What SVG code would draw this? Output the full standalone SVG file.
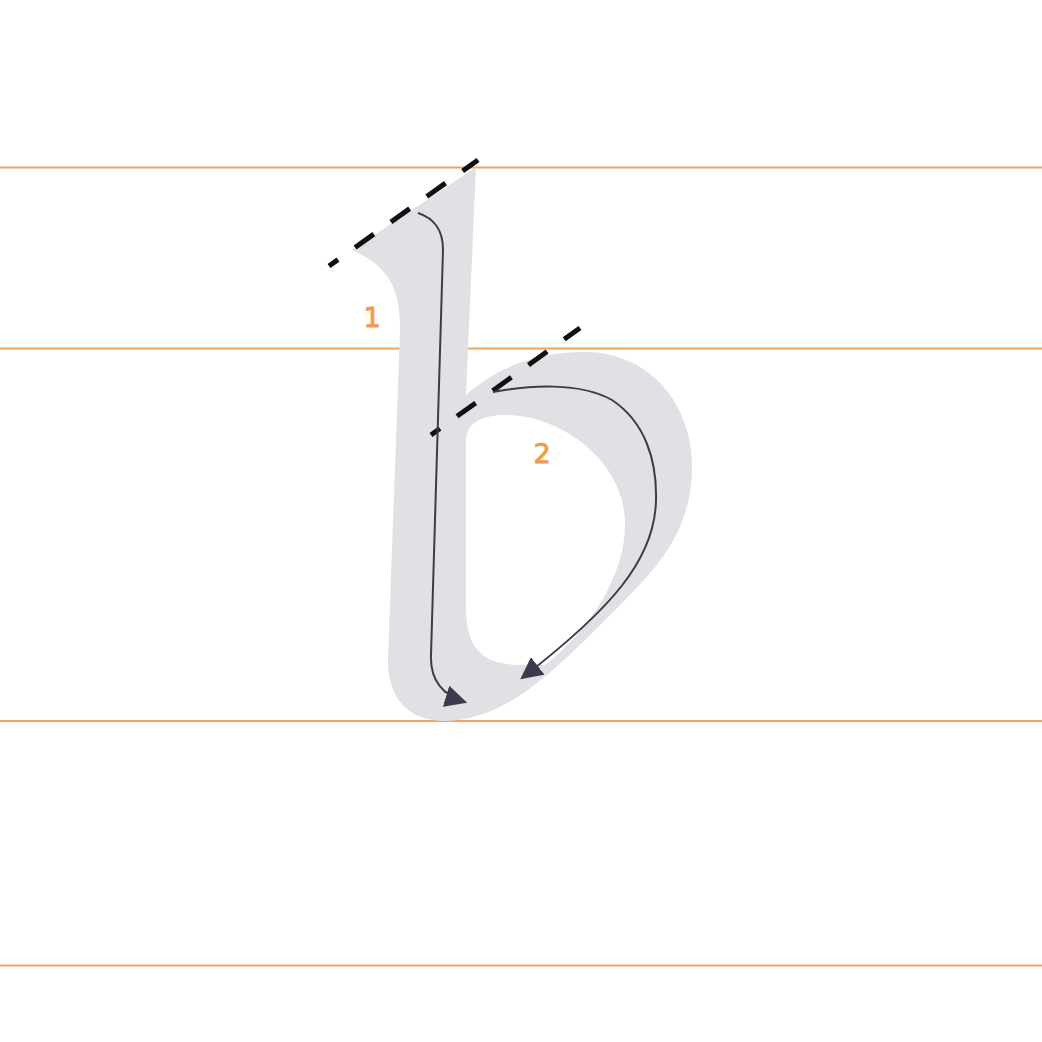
<svg xmlns="http://www.w3.org/2000/svg" width="1042" height="1042" viewBox="0 0 1042 1042">
<defs>
<style>
.guide{stroke:#f4a262;stroke-width:2;fill:none}
.dash{stroke:#111;stroke-width:5;stroke-dasharray:23 21;stroke-dashoffset:12;fill:none}
.stroke{stroke:#3c3b4e;stroke-width:2;fill:none}
.num{font-family:"DejaVu Sans",sans-serif;font-size:27px;fill:#f39a4a;stroke:#f39a4a;stroke-width:0.9;text-anchor:middle}
</style>
<marker id="ah2" viewBox="0 0 20 20" refX="18" refY="10" markerWidth="22" markerHeight="22" markerUnits="userSpaceOnUse" orient="auto">
<path d="M0,0 L20,10 L0,20 Z" fill="#3c3b4e"/>
</marker>
</defs>
<rect width="1042" height="1042" fill="#fff"/>
<g id="guides">
<line class="guide" x1="0" y1="167.500" x2="1042" y2="167.500"/>
<line class="guide" x1="0" y1="348.500" x2="1042" y2="348.500"/>
<line class="guide" x1="0" y1="721" x2="1042" y2="721"/>
<line class="guide" x1="0" y1="965.500" x2="1042" y2="965.500"/>
</g>
<g id="glyph">
<path fill="#e1e1e5" d="M476,167 L466,395 C500,365 540,352 585,352 C650,352 692,405 692,465 C692,530 660,565 620,605 C560,665 510,720 445,721 C410,721 388,700 388,660 L400,330 C401,285 385,265 352,250 Z"/>
<path fill="#fff" d="M466,440 C466,425 480,415 505,415 C560,415 625,460 625,525 C625,575 590,630 545,665 L520,665 C485,665 466,650 466,610 Z"/>
</g>
<g id="connectors">
<line class="dash" x1="329" y1="266" x2="478" y2="160"/>
<line class="dash" x1="431" y1="435" x2="580" y2="328"/>
<path class="stroke" marker-end="url(#ah2)" d="M418,213 C433,218 443,228 443,250 L431,655 C430,680 442,695 465,702"/>
<path class="stroke" marker-end="url(#ah2)" d="M493,392 C530,385 580,382 612,400 C645,422 657,460 656,500 C655,560 610,610 522,678"/>
</g>
<g id="labels">
<text class="num" x="372" y="327">1</text>
<text class="num" x="542" y="463">2</text>
</g>
</svg>
